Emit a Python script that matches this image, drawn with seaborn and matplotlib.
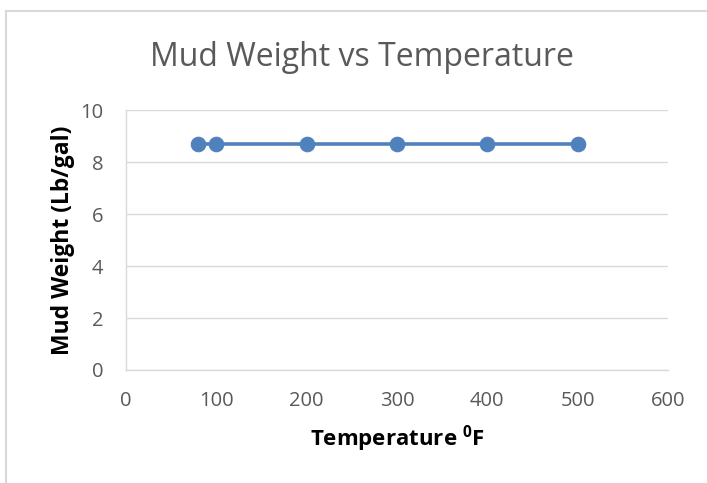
import matplotlib
matplotlib.use("Agg")
import matplotlib.pyplot as plt
import seaborn as sns
import pandas as pd
from matplotlib.lines import Line2D

temperature = [80, 100, 200, 300, 400, 500]
mud_weight = [8.7, 8.7, 8.7, 8.7, 8.7, 8.7]
x_ticks = [0, 100, 200, 300, 400, 500, 600]
y_ticks = [0, 2, 4, 6, 8, 10]

sns.set_theme(style="white")
plt.rcParams['font.family'] = ['Open Sans', 'DejaVu Sans']
plt.rcParams['mathtext.fontset'] = 'custom'
plt.rcParams['mathtext.rm'] = 'Open Sans'
plt.rcParams['mathtext.bf'] = 'Open Sans:bold'

df = pd.DataFrame({"Temperature": temperature, "MudWeight": mud_weight})

fig = plt.figure(figsize=(7.07, 4.83), dpi=100)
ax = fig.add_axes([0.178, 0.234, 0.767, 0.538])

sns.lineplot(data=df, x="Temperature", y="MudWeight", ax=ax, color="#4f81bd",
             linewidth=2.6, marker="o", markersize=10.5, markeredgecolor="#4f81bd",
             markerfacecolor="#4f81bd")

ax.set_xlim(0, 600)
ax.set_ylim(0, 10)
ax.set_xticks(x_ticks)
ax.set_yticks(y_ticks)
ax.tick_params(axis='both', length=0, labelsize=14.5, labelcolor="#595959")
ax.tick_params(axis='y', pad=16)
ax.tick_params(axis='x', pad=15)
ax.grid(axis='y', color="#d9d9d9", linewidth=1)
ax.grid(axis='x', visible=False)
for s in ["top", "right"]:
    ax.spines[s].set_visible(False)
for s in ["left", "bottom"]:
    ax.spines[s].set_color("#d9d9d9")
    ax.spines[s].set_linewidth(1)

ax.set_xlabel(r"Temperature $\mathbf{^{0}}$F", fontsize=16, fontweight="bold", color="black", labelpad=9)
ax.set_ylabel("Mud Weight (Lb/gal)", fontsize=16.5, fontweight="bold", color="black", labelpad=4)
fig.text(0.512, 0.880, "Mud Weight vs Temperature", ha="center", va="center",
         fontsize=23, color="#595959")

fig.add_artist(Line2D([6/707, 6/707], [0, 1 - 11/483], color="#d9d9d9", linewidth=1.5,
                      transform=fig.transFigure))
fig.add_artist(Line2D([6/707, 1], [1 - 11/483, 1 - 11/483], color="#d9d9d9", linewidth=1.5,
                      transform=fig.transFigure))

fig.savefig("out.png", dpi=100)
